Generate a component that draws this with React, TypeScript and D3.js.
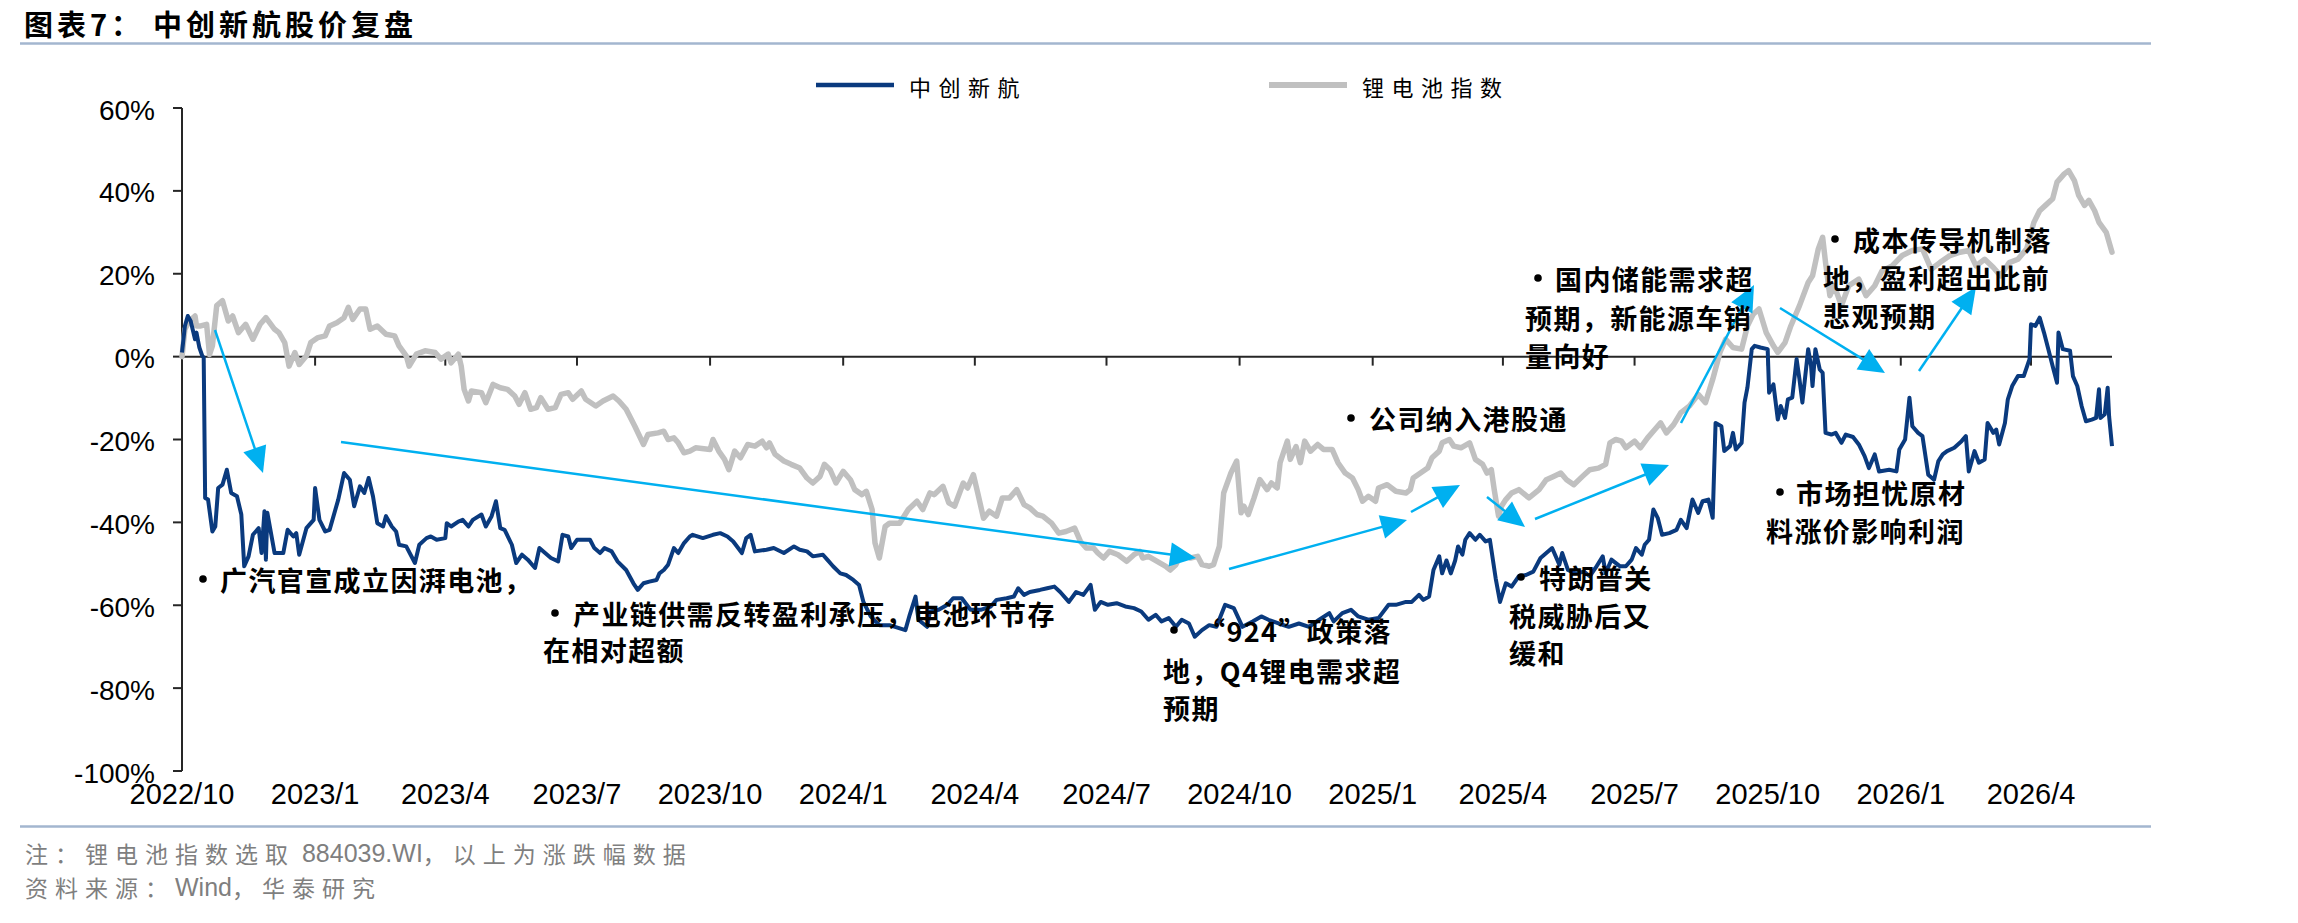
import React, { useEffect, useRef } from 'react';
import * as d3 from 'd3';

const W = 2298;
const H = 923;

// 图例 / 系列名称
const seriesNames = ['中创新航', '锂电池指数'];
// x 轴刻度标签（每季度一个）
const tickLabels = ['2022/10', '2023/1', '2023/4', '2023/7', '2023/10', '2024/1', '2024/4', '2024/7', '2024/10', '2025/1', '2025/4', '2025/7', '2025/10', '2026/1', '2026/4'];
const yTicks = [60, 40, 20, 0, -20, -40, -60, -80, -100];

// 上市日（第 0 天），数据按距上市日天数记
const startDate = '2022-10-06';
const endDay = 1334;

// 锂电池指数涨跌幅 [天数, %]
const indexSeries: [number, number][] = [
  [0, 0], [2, 6.6], [5, 8.6], [9, 9.8], [10, 7.4], [13, 7.4], [17, 7.8], [19, 0.5], [21, 2.6], [24, 12.3], [28, 13.5], [32, 8.6], [35, 9.8], [39, 5.8], [44, 7.8], [49, 4.2], [54, 7.8], [58, 9.4], [64, 6.6], [67, 5.8], [71, 3.4], [74, -2.3], [78, 1], [81, -1.9], [86, 0.2], [89, 3.4], [94, 4.6], [99, 5], [102, 7.4], [107, 8.2], [112, 9.4], [115, 11.9], [118, 9], [123, 11.5], [127, 11.5], [130, 6.6], [135, 7.4], [141, 5.4], [147, 5], [150, 2.6], [155, 0.2], [157, -2.3], [162, 0.6], [168, 1.4], [175, 1], [179, -0.6], [184, 0.6], [186, -1.5], [191, 0.6], [193, -2.3], [195, -7.9], [198, -10.7], [200, -8.3], [207, -8.7], [210, -11.1], [215, -6.7], [220, -7.5], [225, -7.9], [230, -9.5], [233, -11.5], [237, -8.7], [241, -12.7], [245, -12.3], [248, -9.9], [253, -12.7], [258, -12.3], [262, -9.1], [267, -8.7], [270, -10.3], [276, -8.3], [279, -10.3], [286, -11.9], [291, -10.7], [298, -9.5], [302, -10.7], [307, -12.7], [313, -16.8], [319, -21.2], [322, -18.8], [329, -18.4],
  [333, -18], [336, -20], [340, -19.6], [343, -20.8], [347, -23.2], [351, -22.8], [355, -22], [365, -22.4], [367, -20], [371, -22.8], [375, -24.8], [378, -27.3], [382, -22.8], [386, -24.4], [391, -21.2], [396, -21.6], [401, -20.4], [404, -22], [406, -20.8], [410, -23.6], [416, -25.2], [421, -26], [427, -26.9], [432, -29.3], [436, -30.5], [441, -28.9], [444, -26], [448, -27.3], [452, -30.5], [457, -27.7], [462, -29.7], [465, -32.1], [470, -33.3], [473, -32.5], [477, -36.9], [479, -45], [482, -48.6], [486, -41], [489, -40.2], [496, -40.2], [502, -36.9], [508, -34.9], [512, -36.9], [517, -32.9], [520, -33.3], [526, -31.3], [530, -35.3], [534, -36.1], [540, -30.5], [543, -31.7], [547, -28.5], [550, -32.9], [554, -39], [558, -37.3], [563, -38.5], [567, -34.1], [572, -34.1], [577, -32.1], [582, -35.7], [586, -36.5], [591, -38.1], [595, -38.5], [601, -40.2], [606, -42.6], [611, -42.2], [617, -41.4], [621, -44.6], [625, -46.2], [630, -46.2], [633, -47.4], [637, -48.6], [641, -47], [647, -47.8], [653, -49.4], [658, -47.8], [662, -47],
  [664, -48.6], [668, -48.2], [674, -49.4], [680, -50.6], [683, -51.5], [687, -50.2], [691, -47.4], [697, -48.6], [702, -48.2], [705, -50.2], [710, -50.6], [713, -50.2], [717, -45.8], [720, -32.9], [725, -28.1], [729, -25.2], [732, -37.7], [734, -36.1], [737, -38.1], [741, -34.1], [745, -29.7], [750, -32.1], [753, -30.5], [757, -31.7], [759, -25.6], [764, -20.4], [766, -24.8], [770, -21.7], [773, -25.6], [776, -20.4], [780, -22.8], [785, -21.2], [789, -22.4], [795, -22.4], [799, -25.6], [804, -28.1], [809, -29.3], [813, -32.1], [816, -34.9], [820, -33.7], [825, -34.9], [827, -31.7], [833, -30.9], [839, -32.5], [846, -32.9], [849, -32.1], [851, -29.3], [856, -28.1], [861, -26.9], [864, -24.4], [869, -22.8], [871, -20.8], [876, -20], [879, -21.6], [884, -22], [890, -20.8], [894, -24.8], [899, -26], [902, -28.1], [905, -27.3], [907, -32.1], [910, -38.5], [912, -36.1], [915, -34.5], [919, -32.9], [924, -32.1], [931, -34.1], [938, -32.1], [943, -29.7], [948, -28.9], [953, -28.1], [957, -29.7], [962, -30.9], [968, -28.9], [973, -27.3], [979, -26.9], [984, -26], [987, -20.8], [991, -20], [995, -20.4],
  [998, -22], [1004, -20.4], [1008, -22], [1013, -19.6], [1018, -17.6], [1022, -16], [1026, -18.4], [1031, -16.4], [1036, -13.5], [1042, -11.9], [1048, -9.1], [1053, -11.1], [1058, -5.5], [1063, 1], [1067, 4.2], [1072, 2.2], [1078, 1.8], [1082, 7.4], [1086, 10.2], [1090, 11.5], [1095, 5.8], [1100, 2.6], [1103, 1], [1108, 3.4], [1112, 7.4], [1118, 12.3], [1124, 17.9], [1127, 19.5], [1131, 26], [1134, 28.8], [1136, 22.7], [1139, 14.7], [1142, 17.1], [1147, 12.3], [1152, 17.1], [1159, 18.7], [1164, 14.7], [1170, 17.1], [1175, 20.7], [1182, 21.9], [1189, 24.4], [1196, 25.6], [1203, 26], [1209, 21.1], [1215, 22.7], [1222, 24.4], [1229, 25.2], [1235, 25.6], [1240, 21.9], [1246, 23.5], [1252, 21.5], [1257, 19.5], [1263, 22.7], [1269, 23.5], [1275, 26], [1280, 32.4], [1284, 35.2], [1288, 36.5], [1293, 38.1], [1296, 42.1], [1301, 44.1], [1304, 44.9], [1308, 42.5], [1311, 38.9], [1315, 36.5], [1318, 37.7], [1322, 35.2], [1325, 32.4], [1330, 30], [1334, 25.2],
];

// 中创新航股价涨跌幅 [天数, %]
const stockSeries: [number, number][] = [
  [0, 1], [2, 7.4], [4, 9.8], [6, 8.6], [9, 4.2], [10, 5.8], [12, 2.2], [14, 0.2], [15, -0.2], [16, -34.1], [18, -34.5], [21, -42.2], [23, -41], [25, -31.7], [28, -30.9], [31, -27.3], [34, -32.9], [38, -33.7], [41, -38.1], [43, -50.6], [46, -48.2], [49, -43], [53, -41.4], [55, -47.4], [57, -37.3], [58, -49], [59, -37.7], [64, -47.4], [70, -47.4], [73, -41.8], [77, -43.4], [79, -42.6], [81, -47.8], [86, -41.4], [91, -39.4], [92, -31.7], [95, -39.4], [99, -42.2], [102, -41.8], [108, -34.5], [112, -28.1], [116, -29.7], [119, -36.1], [123, -31.3], [126, -32.9], [129, -29.3], [132, -33.7], [135, -40.2], [139, -41], [141, -38.5], [145, -41], [148, -42.2], [150, -45.4], [155, -45.8], [161, -49.8], [164, -45.4], [169, -43.8], [172, -43.4], [176, -44.2], [182, -43.8], [183, -40.2], [186, -41], [191, -39.8], [194, -39.4], [198, -41], [201, -39.4], [207, -38.1], [210, -41], [214, -38.5], [217, -34.9], [220, -41.4], [223, -41.8], [228, -45.4], [231, -49.8], [235, -47.8], [239, -49], [244, -51], [247, -46.2], [251, -47.4], [255, -48.6], [260, -49.4], [263, -43], [267, -43.4], [269, -46.2], [273, -44.2], [277, -44.2], [282, -44.2], [285, -46.2], [289, -47.4], [292, -46.2], [297, -47], [301, -49.4], [307, -51.5], [312, -54.7], [315, -56.3], [319, -54.7], [323, -54.3], [328, -53.9],
  [330, -52.3], [333, -51.5], [336, -50.2], [340, -46.2], [343, -47.4], [347, -45], [351, -43.4], [353, -43], [360, -43.8], [367, -43], [372, -42.6], [377, -43.4], [381, -44.6], [387, -47.4], [390, -43.8], [393, -43], [396, -47], [404, -46.6], [409, -46.2], [416, -47.4], [423, -45.8], [427, -46.6], [432, -47], [436, -48.2], [443, -47.8], [446, -49], [450, -50.6], [455, -52.3], [459, -52.7], [464, -53.9], [468, -55.1], [471, -59.2], [476, -62.7], [482, -64.8], [489, -64.8], [500, -66], [503, -62.3], [507, -57.9], [509, -63.5], [515, -65.2], [517, -61.5], [523, -61.1], [529, -59.9], [533, -58.3], [539, -58.3], [545, -61.1], [552, -61.1], [559, -60.3], [563, -58.7], [570, -58.3], [575, -57.9], [578, -55.9], [582, -57.5], [586, -56.8], [593, -56.3], [598, -55.9], [603, -55.5], [607, -56.8], [613, -59.2], [618, -56.8], [623, -57.5], [628, -55.1], [631, -61.1], [635, -59.2], [640, -59.9], [646, -59.5], [652, -60.3], [658, -60.7], [663, -61.5],
  [668, -63.5], [673, -62.3], [677, -63.9], [682, -63.1], [687, -65.2], [691, -63.5], [696, -64.4], [700, -67.6], [705, -66], [710, -64.8], [715, -65.2], [721, -59.9], [727, -60.7], [733, -65.2], [740, -63.9], [746, -62.7], [751, -63.5], [758, -64.4], [765, -65.2], [772, -64.4], [779, -65.2], [786, -63.5], [793, -61.9], [796, -63.9], [802, -61.9], [808, -61.1], [813, -62.7], [820, -63.5], [827, -63.1], [834, -59.9], [839, -59.9], [846, -59.2], [850, -59.2], [855, -57.5], [858, -58.7], [862, -57.9], [865, -51.5], [869, -48.2], [871, -52.3], [874, -49.2], [877, -52.3], [880, -49.2], [882, -45.8], [885, -47.8], [887, -44.2], [890, -42.6], [894, -44.2], [897, -43], [901, -44.6], [904, -44.2], [908, -53.5], [911, -59.2], [915, -54.7], [919, -55.5], [924, -53], [929, -52.7], [934, -51.9], [939, -48.6], [943, -47.4], [947, -46.2], [952, -50.2], [954, -47.4], [958, -51.5], [963, -52.3], [969, -51.9], [973, -53], [977, -51], [982, -48.2], [984, -52.3], [988, -49], [994, -50.6],
  [998, -50.6], [1002, -49], [1005, -46.2], [1009, -47.8], [1011, -45.4], [1014, -44.2], [1017, -36.9], [1020, -38.9], [1023, -43], [1028, -42.6], [1033, -41.8], [1036, -39.4], [1040, -41.4], [1044, -34.5], [1048, -37.7], [1051, -34.9], [1055, -34.5], [1058, -38.9], [1060, -16], [1064, -16.8], [1066, -22.8], [1070, -21.6], [1072, -18.4], [1074, -22.4], [1078, -20.8], [1080, -11.1], [1082, -7.5], [1085, 1.8], [1087, 2.6], [1091, 2.2], [1096, 1.8], [1097, -8.7], [1100, -6.7], [1103, -15.2], [1105, -11.9], [1108, -14.8], [1110, -10.3], [1113, -9.9], [1116, -0.6], [1118, -5.5], [1120, -11.1], [1124, 1.8], [1126, -2.3], [1127, -7.1], [1129, 1.8], [1132, -3.1], [1134, -3.9], [1136, -18.4], [1140, -18.8], [1143, -18.4], [1147, -20.8], [1150, -18.8], [1155, -19.4], [1159, -21.2], [1163, -24], [1166, -26.9], [1170, -23.6], [1173, -27.7], [1180, -27.3], [1185, -27.7], [1187, -22.4], [1191, -20], [1194, -9.9], [1196, -16.8], [1200, -18.4], [1203, -19.2], [1207, -28.5], [1211, -29.7], [1214, -25.2], [1217, -23.6], [1220, -22.8], [1225, -22], [1230, -20.4], [1233, -19.2], [1235, -27.7], [1239, -22.8], [1242, -25.6], [1246, -24.8], [1248, -16], [1252, -18.4], [1254, -17.6], [1256, -21.2], [1260, -16], [1262, -10.3], [1265, -7.1], [1269, -4.7], [1273, -4.7], [1277, -0.6], [1278, 7.8], [1281, 7.4], [1284, 9.4], [1287, 5.8], [1290, 1.8], [1293, -2.3], [1296, -6.3], [1297, 5.8], [1300, 1.8], [1305, 1.4], [1307, -4.7], [1310, -7.1], [1313, -11.9], [1316, -15.6], [1320, -15.2], [1323, -14.8], [1325, -7.9], [1326, -14.8], [1329, -13.9], [1331, -7.5], [1332, -14.4], [1334, -21.6],
];

// 文字批注（像素位置）
const notes = [
  { bx: 203, by: 579, lines: [{ t: '广汽官宣成立因湃电池，', x: 220, y: 579 }] },
  { bx: 555, by: 613, lines: [{ t: '产业链供需反转盈利承压，电池环节存', x: 573, y: 613 }, { t: '在相对超额', x: 543, y: 649 }] },
  { bx: 1174, by: 630, lines: [{ t: '“924”政策落', x: 1198, y: 630 }, { t: '地，Q4锂电需求超', x: 1163, y: 670 }, { t: '预期', x: 1163, y: 707 }] },
  { bx: 1351, by: 418, lines: [{ t: '公司纳入港股通', x: 1369, y: 418 }] },
  { bx: 1521, by: 577, lines: [{ t: '特朗普关', x: 1539, y: 577 }, { t: '税威胁后又', x: 1509, y: 615 }, { t: '缓和', x: 1509, y: 652 }] },
  { bx: 1538, by: 278, lines: [{ t: '国内储能需求超', x: 1555, y: 278 }, { t: '预期，新能源车销', x: 1525, y: 317 }, { t: '量向好', x: 1525, y: 355 }] },
  { bx: 1780, by: 492, lines: [{ t: '市场担忧原材', x: 1796, y: 492 }, { t: '料涨价影响利润', x: 1766, y: 530 }] },
  { bx: 1835, by: 239, lines: [{ t: '成本传导机制落', x: 1853, y: 239 }, { t: '地，盈利超出此前', x: 1823, y: 277 }, { t: '悲观预期', x: 1823, y: 315 }] },
];

// 箭头 [x1, y1, x2(箭尖), y2]
const arrows = [
  [215, 330, 263, 473],
  [341, 442, 1196, 558],
  [1229, 569, 1407, 520],
  [1411, 512, 1460, 485],
  [1487, 497, 1525, 527],
  [1535, 519, 1669, 465],
  [1681, 423, 1754, 285],
  [1780, 308, 1885, 373],
  [1919, 371, 1976, 287],
];

// 脚注：中文段与西文段分开排版
const noteParts = [
  { t: '注：锂电池指数选取', cjk: true },
  { t: ' 884039.WI', cjk: false },
  { t: '，以上为涨跌幅数据', cjk: true },
];
const sourceParts = [
  { t: '资料来源：', cjk: true },
  { t: 'Wind', cjk: false },
  { t: '，华泰研究', cjk: true },
];

const CJK = '"Noto Sans CJK SC", "Noto Sans", sans-serif';
const LATIN = '"Liberation Sans", Arial, sans-serif';
const NARROW = '"Liberation Sans Narrow", "Liberation Sans", Arial, sans-serif';
const BLUE = '#0a3a7e';
const GRAY = '#c0c0c0';
const ARROW = '#00b0f0';

const App = () => {
  const ref = useRef<SVGSVGElement | null>(null);

  useEffect(() => {
    document.body.style.margin = '0';
    const svg = d3.select(ref.current);
    svg.selectAll('*').remove();

    const t0 = d3.utcParse('%Y-%m-%d')(startDate) as Date;
    const toDate = (d: number) => d3.utcDay.offset(t0, d);

    const x = d3.scaleUtc().domain([t0, toDate(endDay)]).range([182, 2112]);
    const y = d3.scaleLinear().domain([-100, 60]).range([771, 108]);
    const tickDates = tickLabels.map((_, i) => d3.utcMonth.offset(t0, 3 * i));

    svg.append('rect').attr('width', W).attr('height', H).attr('fill', '#fff');

    // 标题
    svg.append('text').attr('x', 24).attr('y', 23).attr('dominant-baseline', 'central')
      .style('font-family', CJK).style('font-size', '29px').style('font-weight', 700)
      .style('letter-spacing', '4px')
      .text('图表7：');
    svg.append('text').attr('x', 153).attr('y', 23).attr('dominant-baseline', 'central')
      .style('font-family', CJK).style('font-size', '29px').style('font-weight', 700)
      .style('letter-spacing', '4px')
      .text('中创新航股价复盘');

    svg.append('line').attr('x1', 20).attr('x2', 2151).attr('y1', 43.5).attr('y2', 43.5)
      .attr('stroke', '#a3b6cf').attr('stroke-width', 2.5);
    svg.append('line').attr('x1', 20).attr('x2', 2151).attr('y1', 826.5).attr('y2', 826.5)
      .attr('stroke', '#a3b6cf').attr('stroke-width', 2.5);

    // 图例
    const legend = [
      { name: seriesNames[0], color: BLUE, w: 4.5, x: 816 },
      { name: seriesNames[1], color: GRAY, w: 6, x: 1269 },
    ];
    legend.forEach((l) => {
      svg.append('line').attr('x1', l.x).attr('x2', l.x + 78).attr('y1', 85).attr('y2', 85)
        .attr('stroke', l.color).attr('stroke-width', l.w);
      svg.append('text').attr('x', l.x + 93).attr('y', 86).attr('dominant-baseline', 'central')
        .style('font-family', CJK).style('font-size', '22px').style('letter-spacing', '7.5px')
        .text(l.name);
    });

    // y 轴
    const axisColor = '#262626';
    svg.append('line').attr('x1', 182).attr('x2', 182).attr('y1', y(60)).attr('y2', y(-100))
      .attr('stroke', axisColor).attr('stroke-width', 2);
    yTicks.forEach((v) => {
      svg.append('line').attr('x1', 173).attr('x2', 182).attr('y1', y(v)).attr('y2', y(v))
        .attr('stroke', axisColor).attr('stroke-width', 2);
      svg.append('text').attr('x', 155).attr('y', y(v) + 2).attr('text-anchor', 'end')
        .attr('dominant-baseline', 'central')
        .style('font-family', LATIN).style('font-size', '28px')
        .text(`${v}%`);
    });

    // x 轴（在 0% 处），标签在底部
    svg.append('line').attr('x1', 182).attr('x2', 2112).attr('y1', y(0)).attr('y2', y(0))
      .attr('stroke', axisColor).attr('stroke-width', 2);
    tickDates.forEach((d, i) => {
      svg.append('line').attr('x1', x(d)).attr('x2', x(d)).attr('y1', y(0)).attr('y2', y(0) + 9)
        .attr('stroke', axisColor).attr('stroke-width', 2);
      svg.append('text').attr('x', x(d)).attr('y', 794).attr('text-anchor', 'middle')
        .attr('dominant-baseline', 'central')
        .style('font-family', LATIN).style('font-size', '29px')
        .text(tickLabels[i]);
    });

    // 折线
    const line = d3.line<[number, number]>()
      .x((d) => x(toDate(d[0])))
      .y((d) => y(d[1]));

    svg.append('path').datum(indexSeries).attr('d', line)
      .attr('fill', 'none').attr('stroke', GRAY).attr('stroke-width', 5.5)
      .attr('stroke-linejoin', 'round').attr('stroke-linecap', 'round');
    svg.append('path').datum(stockSeries).attr('d', line)
      .attr('fill', 'none').attr('stroke', BLUE).attr('stroke-width', 4)
      .attr('stroke-linejoin', 'round');

    // 箭头
    arrows.forEach(([x1, y1, x2, y2]) => {
      const len = Math.hypot(x2 - x1, y2 - y1);
      const ux = (x2 - x1) / len;
      const uy = (y2 - y1) / len;
      const head = 26;
      const half = 12;
      const bx = x2 - ux * head;
      const by = y2 - uy * head;
      svg.append('line').attr('x1', x1).attr('y1', y1).attr('x2', bx + ux * 4).attr('y2', by + uy * 4)
        .attr('stroke', ARROW).attr('stroke-width', 2.5);
      svg.append('polygon')
        .attr('points', `${x2},${y2} ${bx - uy * half},${by + ux * half} ${bx + uy * half},${by - ux * half}`)
        .attr('fill', ARROW);
    });

    // 批注
    notes.forEach((n) => {
      svg.append('circle').attr('cx', n.bx).attr('cy', n.by).attr('r', 3.8).attr('fill', '#000');
      n.lines.forEach((l) => {
        svg.append('text').attr('x', l.x).attr('y', l.y).attr('dominant-baseline', 'central')
          .style('font-family', CJK).style('font-size', '27px').style('font-weight', 700)
          .style('letter-spacing', '1.4px')
          .text(l.t);
      });
    });

    // 脚注
    const footer = (parts: { t: string; cjk: boolean }[], yy: number) => {
      const t = svg.append('text').attr('x', 25).attr('y', yy).attr('dominant-baseline', 'central')
        .attr('fill', '#7f7f7f');
      parts.forEach((p) => {
        t.append('tspan')
          .style('font-family', p.cjk ? CJK : NARROW)
          .style('font-size', p.cjk ? '23px' : '25px')
          .style('letter-spacing', p.cjk ? '7px' : '0px')
          .text(p.t);
      });
    };
    footer(noteParts, 853);
    footer(sourceParts, 887);
  }, []);

  return (
    <svg ref={ref} width={W} height={H} style={{ display: 'block' }} />
  );
};

export default App;
